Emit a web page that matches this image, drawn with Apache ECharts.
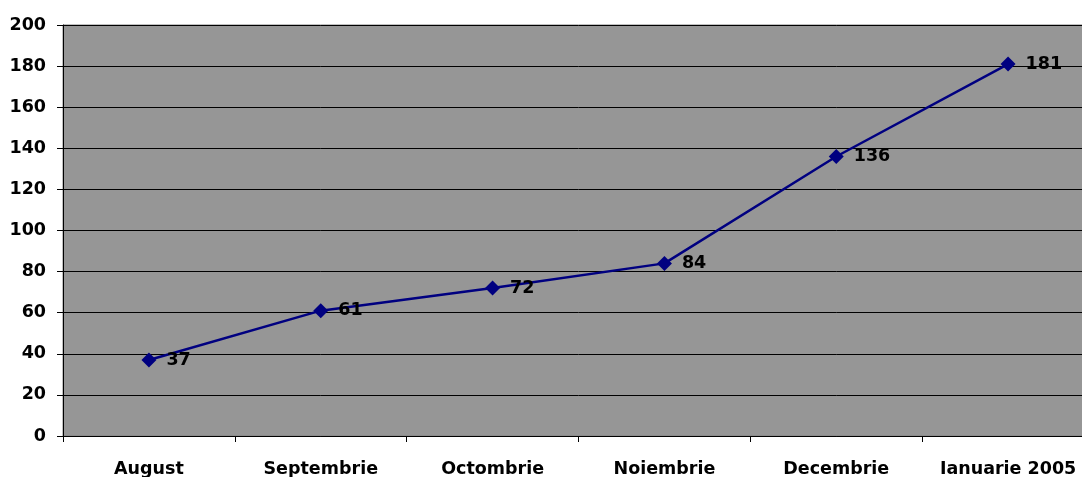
<!DOCTYPE html>
<html>
<head>
<meta charset="utf-8">
<script src="https://cdn.jsdelivr.net/npm/echarts@6/dist/echarts.min.js"></script>
<style>
  html, body { margin: 0; padding: 0; background: #ffffff; overflow: hidden; }
  /* the plot area runs past the right edge of the window */
  #chart { width: 1100px; height: 477px; }
</style>
</head>
<body>
<div id="chart"></div>
<script>
// Monthly values, August 2004 – January 2005
const months = ['August', 'Septembrie', 'Octombrie', 'Noiembrie', 'Decembrie', 'Ianuarie 2005'];
const counts = [37, 61, 72, 84, 136, 181];
const yTicks = [0, 20, 40, 60, 80, 100, 120, 140, 160, 180, 200];

const font = { fontFamily: 'DejaVu Sans', fontWeight: 'bold', fontSize: 17.5, color: '#000000' };

const chart = echarts.init(document.getElementById('chart'), null, { renderer: 'canvas' });
chart.setOption({
  animation: false,
  grid: {
    left: 63, top: 25, right: 6, bottom: 41,
    outerBoundsMode: 'none',
    show: true,
    backgroundColor: '#969696',
    borderColor: '#808080',
    borderWidth: 1
  },
  xAxis: {
    type: 'category',
    data: months,
    boundaryGap: true,
    axisLine: { show: true, lineStyle: { color: '#000000', width: 1 } },
    axisTick: { show: true, length: 6, lineStyle: { color: '#000000' } },
    axisLabel: Object.assign({ margin: 24, interval: 0 }, font),
    splitLine: { show: false }
  },
  yAxis: {
    type: 'value',
    min: yTicks[0],
    max: yTicks[yTicks.length - 1],
    interval: yTicks[1] - yTicks[0],
    axisLine: { show: true, lineStyle: { color: '#000000', width: 1 } },
    axisTick: { show: true, length: 6, lineStyle: { color: '#000000' } },
    axisLabel: Object.assign({ margin: 17 }, font),
    splitLine: { show: true, lineStyle: { color: '#000000', width: 1 } }
  },
  series: [{
    type: 'line',
    data: counts,
    symbol: 'diamond',
    symbolSize: 15,
    lineStyle: { color: '#000080', width: 2.5 },
    itemStyle: { color: '#000080' },
    label: Object.assign({ show: true, position: 'right', distance: 10 }, font)
  }]
});
</script>
</body>
</html>
